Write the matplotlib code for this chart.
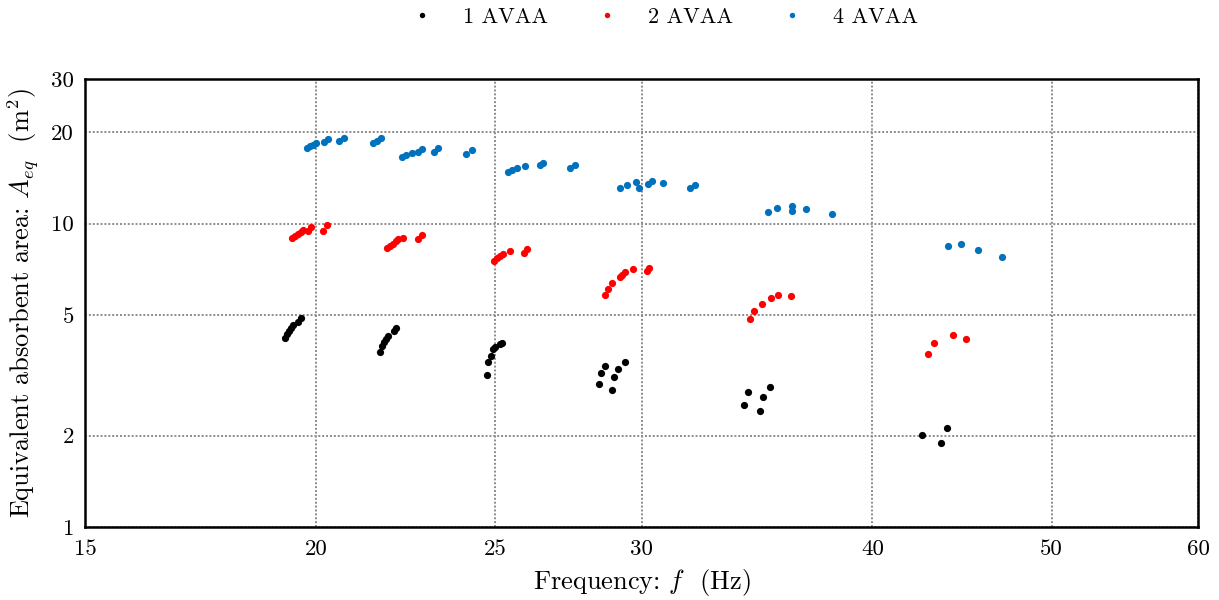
import matplotlib
matplotlib.use("Agg")
import matplotlib.pyplot as plt
from matplotlib.ticker import FixedLocator, FixedFormatter, NullLocator

plt.rcParams['font.family'] = ['serif']
plt.rcParams['font.serif'] = ['cmr10', 'DejaVu Serif']
plt.rcParams['mathtext.fontset'] = 'cm'
plt.rcParams['axes.unicode_minus'] = False

# ---- data ----
f1 = [19.24, 19.29, 19.34, 19.39, 19.44, 19.56, 19.63,
      21.66, 21.72, 21.77, 21.82, 21.88, 22.04, 22.10,
      24.75, 24.78, 24.87, 24.94, 25.00, 25.15, 25.22,
      28.45, 28.52, 28.67, 28.92, 28.99, 29.13, 29.39,
      34.09, 34.26, 34.77, 34.90, 35.21,
      42.55, 43.57, 43.89]
a1 = [4.20, 4.33, 4.43, 4.53, 4.63, 4.74, 4.89,
      3.78, 3.95, 4.07, 4.17, 4.26, 4.43, 4.53,
      3.17, 3.50, 3.66, 3.86, 3.92, 4.01, 4.04,
      2.96, 3.22, 3.40, 2.83, 3.12, 3.32, 3.50,
      2.52, 2.79, 2.41, 2.68, 2.89,
      2.01, 1.89, 2.12]

f2 = [19.41, 19.48, 19.56, 19.63, 19.68, 19.80, 19.88, 20.18, 20.28,
      21.85, 21.93, 22.01, 22.10, 22.15, 22.29, 22.71, 22.82,
      24.97, 25.06, 25.15, 25.25, 25.47, 25.92, 26.01,
      28.67, 28.77, 28.92, 29.21, 29.28, 29.39, 29.68, 30.21, 30.28,
      34.34, 34.51, 34.86, 35.25, 35.56, 36.14,
      42.87, 43.19, 44.22, 44.95]
a2 = [8.97, 9.11, 9.25, 9.39, 9.53, 9.46, 9.75, 9.46, 9.90,
      8.32, 8.44, 8.57, 8.77, 8.90, 8.97, 8.90, 9.18,
      7.53, 7.71, 7.83, 7.95, 8.13, 8.01, 8.25,
      5.82, 6.09, 6.38, 6.67, 6.77, 6.93, 7.09, 6.98, 7.14,
      4.85, 5.15, 5.44, 5.69, 5.82, 5.78,
      3.72, 4.04, 4.30, 4.17]

f4 = [19.78, 19.85, 19.93, 20.00, 20.20, 20.30, 20.58, 20.71, 21.47, 21.58, 21.69,
      22.26, 22.37, 22.54, 22.71, 22.82, 23.17, 23.28, 24.11, 24.29,
      25.41, 25.53, 25.69, 25.95, 26.44, 26.54, 27.45, 27.62,
      29.21, 29.46, 29.80, 29.91, 30.24, 30.40, 30.81, 31.87, 32.07,
      35.12, 35.52, 36.19, 36.19, 36.82, 38.04,
      43.95, 44.67, 45.62, 47.01]
a4 = [17.77, 18.04, 18.18, 18.46, 18.60, 19.03, 18.74, 19.17, 18.46, 18.74, 19.17,
      16.60, 16.85, 17.11, 17.24, 17.63, 17.24, 17.77, 16.98, 17.50,
      14.81, 15.04, 15.27, 15.50, 15.62, 15.86, 15.27, 15.62,
      13.12, 13.42, 13.73, 13.12, 13.52, 13.83, 13.62, 13.12, 13.42,
      10.93, 11.27, 11.44, 11.01, 11.18, 10.76,
      8.44, 8.57, 8.19, 7.77]

labels = ['1 AVAA', '2 AVAA', '4 AVAA']
colors = ['black', '#ff0000', '#0072bd']

xticks = [15, 20, 25, 30, 40, 50, 60]
yticks = [1, 2, 5, 10, 20, 30]

# ---- plot ----
fig = plt.figure(figsize=(12.19, 6.0), dpi=100)
ax = fig.add_axes([85/1219, 73/600, (1198-85)/1219, (527-79)/600])

for fx, ay, lab, c in zip([f1, f2, f4], [a1, a2, a4], labels, colors):
    ax.plot(fx, ay, linestyle='none', marker='o', markersize=5.2,
            markeredgewidth=0, color=c, label=lab, zorder=3)

ax.set_xscale('log')
ax.set_yscale('log')
ax.set_xlim(15, 60)
ax.set_ylim(1, 30)
ax.xaxis.set_major_locator(FixedLocator(xticks))
ax.xaxis.set_major_formatter(FixedFormatter([str(t) for t in xticks]))
ax.xaxis.set_minor_locator(NullLocator())
ax.yaxis.set_major_locator(FixedLocator(yticks))
ax.yaxis.set_major_formatter(FixedFormatter([str(t) for t in yticks]))
ax.yaxis.set_minor_locator(NullLocator())
ax.tick_params(axis='x', length=0, labelsize=16.5, pad=9)
ax.tick_params(axis='y', length=0, labelsize=16.5, pad=8)

ax.grid(True, which='major', color='#8c8c8c', linestyle=(0, (1, 1)), linewidth=1.4, zorder=0)
ax.set_axisbelow(True)
for s in ax.spines.values():
    s.set_linewidth(1.8)

ax.set_xlabel(r'Frequency: $f$  (Hz)', fontsize=19, labelpad=6)
ax.set_ylabel(r'Equivalent absorbent area: $A_{eq}$  (m$^2$)', fontsize=19, labelpad=7)

leg = fig.legend(loc='center', bbox_to_anchor=(0.543, 0.971), ncol=3, frameon=False,
                 fontsize=16, markerscale=0.75, handletextpad=1.1, columnspacing=1.9,
                 handlelength=1.5)

fig.savefig('out.png', dpi=100)
